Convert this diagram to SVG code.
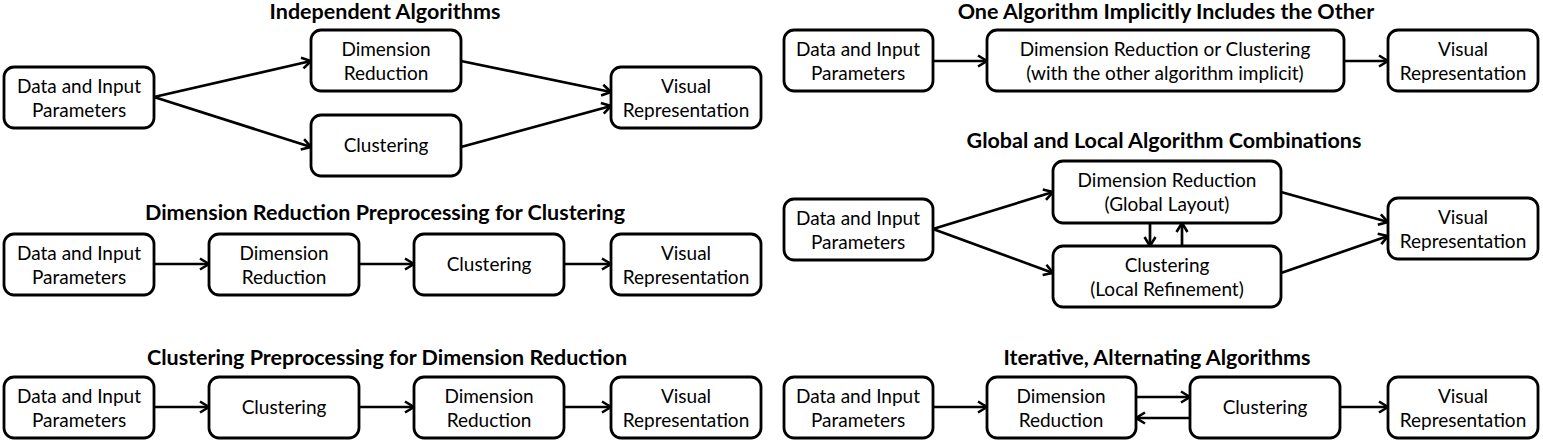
<svg xmlns="http://www.w3.org/2000/svg" width="1543" height="440" viewBox="0 0 1543 440">
<defs>
<style>
.box{fill:#fff;stroke:#000;stroke-width:2.8}
.t{font-family:Lato,"Open Sans","DejaVu Sans",sans-serif;font-size:19px;fill:#000;text-anchor:middle}
.h{font-family:Lato,"Open Sans","DejaVu Sans",sans-serif;font-size:21.5px;font-weight:bold;fill:#000;text-anchor:middle}
.c{stroke:#000;stroke-width:2.7;fill:none;marker-end:url(#ah)}
</style>
<marker id="ah" markerUnits="userSpaceOnUse" markerWidth="14" markerHeight="14" viewBox="0 0 14 14" refX="12" refY="7" orient="auto">
<path d="M3,1.5 L12,7 L3,12.5" fill="none" stroke="#000" stroke-width="2.6"/>
</marker>
</defs>
<rect width="1543" height="440" fill="#fff"/>

<!-- Titles -->
<g id="titles">
<text class="h" x="385" y="19">Independent Algorithms</text>
<text class="h" x="385" y="220">Dimension Reduction Preprocessing for Clustering</text>
<text class="h" x="387" y="365">Clustering Preprocessing for Dimension Reduction</text>
<text class="h" x="1166" y="19">One Algorithm Implicitly Includes the Other</text>
<text class="h" x="1164" y="148">Global and Local Algorithm Combinations</text>
<text class="h" x="1157" y="365">Iterative, Alternating Algorithms</text>
</g>

<!-- Connectors -->
<g id="connectors">
<line class="c" x1="154" y1="97" x2="311" y2="61"/>
<line class="c" x1="154" y1="97" x2="311" y2="147"/>
<line class="c" x1="461" y1="61" x2="611" y2="92"/>
<line class="c" x1="461" y1="147" x2="611" y2="106"/>

<line class="c" x1="154" y1="264" x2="209" y2="264"/>
<line class="c" x1="359" y1="264" x2="414" y2="264"/>
<line class="c" x1="564" y1="264" x2="611" y2="264"/>

<line class="c" x1="154" y1="407" x2="209" y2="407"/>
<line class="c" x1="359" y1="407" x2="414" y2="407"/>
<line class="c" x1="564" y1="407" x2="611" y2="407"/>

<line class="c" x1="933" y1="61" x2="987" y2="61"/>
<line class="c" x1="1344" y1="61" x2="1388" y2="61"/>

<line class="c" x1="933" y1="229" x2="1053" y2="192"/>
<line class="c" x1="933" y1="229" x2="1053" y2="273"/>
<line class="c" x1="1281" y1="192" x2="1388" y2="222"/>
<line class="c" x1="1281" y1="273" x2="1388" y2="236"/>
<line class="c" x1="1150" y1="223" x2="1150" y2="246"/>
<line class="c" x1="1182" y1="246" x2="1182" y2="223"/>

<line class="c" x1="933" y1="407" x2="987" y2="407"/>
<line class="c" x1="1136" y1="397" x2="1190" y2="397"/>
<line class="c" x1="1190" y1="418" x2="1136" y2="418"/>
<line class="c" x1="1340" y1="407" x2="1388" y2="407"/>
</g>

<!-- Section A -->
<g id="a-data"><rect class="box" x="4" y="67" width="150" height="61" rx="10"/><text class="t" x="79" y="93">Data and Input</text><text class="t" x="79" y="117">Parameters</text></g>
<g id="a-dr"><rect class="box" x="311" y="30" width="150" height="61" rx="10"/><text class="t" x="386" y="56">Dimension</text><text class="t" x="386" y="80">Reduction</text></g>
<g id="a-cl"><rect class="box" x="311" y="115" width="150" height="61" rx="10"/><text class="t" x="386" y="152">Clustering</text></g>
<g id="a-vis"><rect class="box" x="611" y="67" width="150" height="61" rx="10"/><text class="t" x="686" y="93">Visual</text><text class="t" x="686" y="117">Representation</text></g>

<!-- Section B -->
<g id="b-data"><rect class="box" x="4" y="234" width="150" height="61" rx="10"/><text class="t" x="79" y="260">Data and Input</text><text class="t" x="79" y="284">Parameters</text></g>
<g id="b-dr"><rect class="box" x="209" y="234" width="150" height="61" rx="10"/><text class="t" x="284" y="260">Dimension</text><text class="t" x="284" y="284">Reduction</text></g>
<g id="b-cl"><rect class="box" x="414" y="234" width="150" height="61" rx="10"/><text class="t" x="489" y="271">Clustering</text></g>
<g id="b-vis"><rect class="box" x="611" y="234" width="150" height="61" rx="10"/><text class="t" x="686" y="260">Visual</text><text class="t" x="686" y="284">Representation</text></g>

<!-- Section C -->
<g id="c-data"><rect class="box" x="4" y="377" width="150" height="61" rx="10"/><text class="t" x="79" y="403">Data and Input</text><text class="t" x="79" y="427">Parameters</text></g>
<g id="c-cl"><rect class="box" x="209" y="377" width="150" height="61" rx="10"/><text class="t" x="284" y="414">Clustering</text></g>
<g id="c-dr"><rect class="box" x="414" y="377" width="150" height="61" rx="10"/><text class="t" x="489" y="403">Dimension</text><text class="t" x="489" y="427">Reduction</text></g>
<g id="c-vis"><rect class="box" x="611" y="377" width="150" height="61" rx="10"/><text class="t" x="686" y="403">Visual</text><text class="t" x="686" y="427">Representation</text></g>

<!-- Section D -->
<g id="d-data"><rect class="box" x="784" y="30" width="149" height="61" rx="10"/><text class="t" x="858" y="56">Data and Input</text><text class="t" x="858" y="80">Parameters</text></g>
<g id="d-combo"><rect class="box" x="987" y="30" width="357" height="61" rx="10"/><text class="t" x="1165" y="56">Dimension Reduction or Clustering</text><text class="t" x="1165" y="80">(with the other algorithm implicit)</text></g>
<g id="d-vis"><rect class="box" x="1388" y="30" width="150" height="61" rx="10"/><text class="t" x="1463" y="56">Visual</text><text class="t" x="1463" y="80">Representation</text></g>

<!-- Section E -->
<g id="e-data"><rect class="box" x="784" y="199" width="149" height="61" rx="10"/><text class="t" x="858" y="225">Data and Input</text><text class="t" x="858" y="249">Parameters</text></g>
<g id="e-dr"><rect class="box" x="1053" y="161" width="228" height="62" rx="10"/><text class="t" x="1167" y="187">Dimension Reduction</text><text class="t" x="1167" y="211">(Global Layout)</text></g>
<g id="e-cl"><rect class="box" x="1053" y="246" width="228" height="61" rx="10"/><text class="t" x="1167" y="272">Clustering</text><text class="t" x="1167" y="296">(Local Refinement)</text></g>
<g id="e-vis"><rect class="box" x="1388" y="198" width="150" height="61" rx="10"/><text class="t" x="1463" y="224">Visual</text><text class="t" x="1463" y="248">Representation</text></g>

<!-- Section F -->
<g id="f-data"><rect class="box" x="784" y="377" width="149" height="61" rx="10"/><text class="t" x="858" y="403">Data and Input</text><text class="t" x="858" y="427">Parameters</text></g>
<g id="f-dr"><rect class="box" x="987" y="377" width="149" height="61" rx="10"/><text class="t" x="1061" y="403">Dimension</text><text class="t" x="1061" y="427">Reduction</text></g>
<g id="f-cl"><rect class="box" x="1190" y="377" width="150" height="61" rx="10"/><text class="t" x="1265" y="414">Clustering</text></g>
<g id="f-vis"><rect class="box" x="1388" y="377" width="150" height="61" rx="10"/><text class="t" x="1463" y="403">Visual</text><text class="t" x="1463" y="427">Representation</text></g>
</svg>
